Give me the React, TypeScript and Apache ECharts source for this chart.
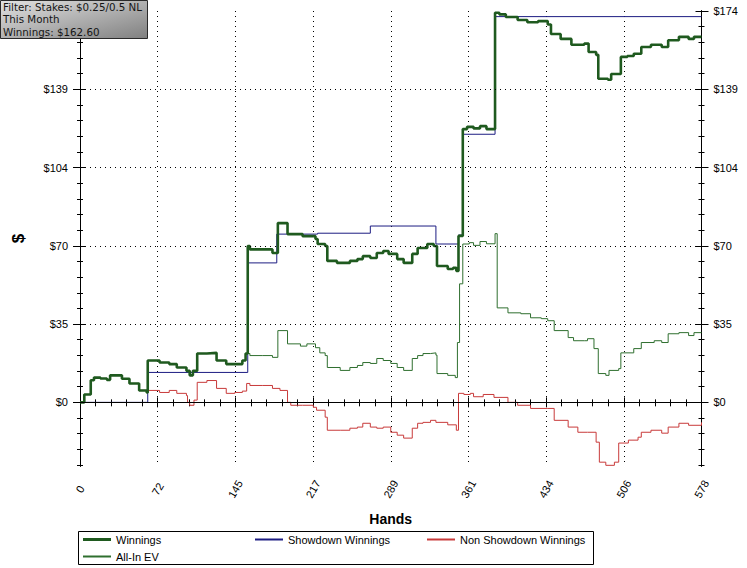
import React, { useEffect, useRef } from 'react';
import * as echarts from 'echarts';

const FONT = '"Liberation Sans", Arial, sans-serif';
const INFO_FONT = '"DejaVu Sans", Verdana, sans-serif';

const handsMax = 578;
const xTickStep = 72.25;
const yMin = -28.3;
const yMax = 174;
const yTickValues = [0, 34.8, 69.6, 104.4, 139.2, 174];
const yLeftLabelValues = [0, 34.8, 69.6, 104.4, 139.2];
const yGridValues = [34.8, 69.6, 104.4, 139.2];
const yMinorStep = 6.96;

const seriesNames = ['Winnings', 'Showdown Winnings', 'Non Showdown Winnings', 'All-In EV'];
const seriesColors = ['#1f5a1f', '#1c1c82', '#c83a3a', '#2f6f2f'];

const infoLines = ['Filter: Stakes: $0.25/0.5 NL', 'This Month', 'Winnings: $162.60'];

// [hand, $]
const winnings: [number, number][] = [
  [0, 0], [4, 3.5], [10, 9.8], [13, 11], [19, 10.6], [25, 10], [28, 12], [34, 12], [39, 10.5], [46, 8.4],
  [55, 5.3], [62, 4.4], [63, 18.6], [74, 17.7], [83, 17], [90, 15.5], [99, 14], [102, 12], [105, 14],
  [109, 21.7], [118, 22], [127, 18.6], [136, 17], [144, 17], [151, 18.6], [154, 21.7], [156, 69.5],
  [158, 68], [170, 68], [179, 66.4], [184, 79.7], [193, 74.8], [207, 73.9], [219, 72.6], [221, 70.4],
  [228, 69.5], [230, 62.9], [239, 62], [251, 62.9], [258, 63.7], [263, 65], [270, 64.2], [276, 66.4],
  [282, 67.3], [287, 66], [295, 63.7], [301, 62], [309, 66], [314, 68.6], [323, 70.4], [329, 69.5],
  [332, 60.6], [342, 59.3], [347, 59.8], [350, 58.4], [352, 74], [356, 121.5], [360, 122.5],
  [366, 121.8], [372, 122.8], [378, 121.5], [386, 173.2], [390, 172.5], [396, 171.3], [407, 170],
  [416, 169], [426, 169.5], [435, 168], [438, 163.8], [447, 161.6], [457, 159], [469, 159.5],
  [473, 155.8], [480, 154.5], [482, 143.9], [491, 143.4], [494, 146], [501, 146], [503, 153.6],
  [509, 154], [515, 155], [522, 158], [531, 159], [541, 158], [547, 161], [557, 162.5], [566, 161.6],
  [571, 162.5], [578, 162.6],
];

const showdown: [number, number][] = [
  [0, 0], [63, 13.3], [156, 62], [183, 74.8], [221, 75.2], [270, 78.4], [331, 70.4], [352, 74.4],
  [356, 119.2], [386, 171.5], [578, 171.5],
];

const nonShowdown: [number, number][] = [
  [0, 0], [4, 3.5], [10, 9.8], [13, 11], [19, 10.6], [25, 10], [28, 12], [34, 12], [39, 10.5], [46, 8.4],
  [55, 5.3], [62, 4.4], [63, 5.3], [74, 4.4], [83, 5.3], [90, 4], [99, 3], [100, 0], [102, -1.3],
  [106, 1], [109, 8.9], [118, 9.7], [127, 6.2], [136, 4], [144, 4.4], [151, 5], [155, 8.4], [158, 7.5],
  [170, 7.5], [179, 6.2], [186, 5.3], [193, 0], [196, -1.3], [207, -1.3], [217, -2.2], [220, -3.5],
  [228, -6.6], [230, -12.4], [242, -12.4], [251, -11.5], [258, -11], [263, -9.3], [270, -11],
  [276, -11.5], [282, -11], [289, -13.3], [295, -14.6], [301, -15.9], [309, -11.5], [314, -9.3],
  [319, -8.9], [326, -8], [331, -8.9], [342, -10], [350, -12.4], [352, 4], [357, 3.5], [363, 4],
  [366, 2.5], [375, 3.5], [385, 2.2], [398, 0], [407, -1.3], [419, -2.7], [435, -2.7], [441, -8],
  [454, -11], [463, -13.3], [472, -13.3], [480, -17.7], [483, -26.6], [489, -28], [497, -26.6],
  [501, -18.1], [510, -16.8], [519, -15.5], [522, -13.3], [531, -12.4], [541, -13.7], [547, -11],
  [557, -9.3], [566, -10.2], [578, -8.9],
];

const allInEV: [number, number][] = [
  [0, 0], [4, 3.5], [10, 9.8], [13, 11], [19, 10.6], [25, 10], [28, 12], [34, 12], [39, 10.5], [46, 8.4],
  [55, 5.3], [62, 4.4], [63, 18.6], [74, 17.7], [83, 17], [90, 15.5], [99, 14], [102, 12], [105, 14],
  [109, 21.7], [118, 22], [127, 18.6], [136, 17], [144, 17], [151, 18.6], [154, 21.7], [158, 20.8],
  [170, 20.8], [179, 20], [184, 31.9], [193, 26], [205, 25], [211, 26], [219, 24.3], [223, 22],
  [228, 20.8], [230, 15.5], [242, 14.2], [251, 15.5], [258, 16.4], [263, 17.7], [270, 17.3],
  [276, 19.5], [282, 18.6], [289, 17.3], [295, 15.5], [301, 14.2], [309, 19.5], [314, 20.8],
  [319, 21.7], [326, 22], [331, 21], [332, 12.8], [342, 12], [349, 11], [351, 26.6], [353, 52.7],
  [356, 70.4], [362, 71], [366, 69.8], [372, 71.5], [378, 70.5], [386, 75], [388, 42], [398, 39.8],
  [410, 39.4], [419, 37.6], [429, 37.2], [435, 36.3], [441, 31.9], [454, 28.8], [459, 27.4],
  [469, 27.4], [472, 28.3], [478, 23.9], [482, 12.8], [489, 12], [492, 14.2], [501, 15], [503, 22],
  [515, 23.9], [522, 26.6], [534, 27.4], [541, 26.6], [547, 30.5], [557, 31], [566, 29.7], [571, 31],
  [578, 31],
];

export default function App() {
  const ref = useRef<HTMLDivElement>(null);

  useEffect(() => {
    if (!ref.current) return;
    const chart = echarts.init(ref.current, null, { renderer: 'svg' });

    const minorTicks: number[] = [];
    for (let k = -4; k <= 25; k++) minorTicks.push(+(k * yMinorStep).toFixed(2));

    const black = { color: '#000', width: 1 };
    const baseY = {
      type: 'value',
      min: yMin,
      max: yMax,
      offset: 0,
      axisLine: { show: true, lineStyle: black },
      axisLabel: { show: false },
      splitLine: { show: false },
      minorTick: { show: false },
    };
    const mkY = (position: string, ticks: number[], length: number, inside: boolean, labels?: number[]) => ({
      ...baseY,
      position,
      axisTick: { show: true, customValues: ticks, length, inside, lineStyle: black },
      axisLabel: labels
        ? {
            show: true,
            customValues: labels,
            formatter: (v: number) => '$' + Math.round(v),
            color: '#000',
            fontSize: 11,
            fontFamily: FONT,
            margin: 12,
          }
        : { show: false },
    });

    const baseX = {
      type: 'value',
      min: 0,
      max: handsMax,
      interval: xTickStep,
      axisLine: { show: true, lineStyle: black },
      splitLine: { show: false },
      axisLabel: { show: false },
    };

    const yLeftMain: any = mkY('left', yTickValues, 7, false, yLeftLabelValues);
    yLeftMain.name = '$';
    yLeftMain.nameLocation = 'middle';
    yLeftMain.nameGap = 53;
    yLeftMain.nameRotate = 90;
    yLeftMain.nameTextStyle = { fontSize: 17, fontWeight: 'bold', color: '#000', fontFamily: FONT };

    const legendCommon = {
      orient: 'horizontal',
      padding: 0,
      itemWidth: 28,
      itemHeight: 2,
      icon: 'rect',
      selectedMode: false,
      textStyle: { fontSize: 11, color: '#000', fontFamily: FONT },
    };

    const lineSeries = (name: string, data: [number, number][], color: string, width: number) => ({
      name,
      type: 'line',
      step: 'end',
      data,
      symbol: 'none',
      showSymbol: false,
      lineStyle: { color, width },
      itemStyle: { color },
      z: 3,
    });

    const option: any = {
      animation: false,
      backgroundColor: '#fff',
      grid: { left: 80, right: 45.5, top: 11, bottom: 102, containLabel: false, outerBoundsMode: 'none' },
      xAxis: [
        {
          ...baseX,
          position: 'bottom',
          name: 'Hands',
          nameLocation: 'middle',
          nameGap: 46,
          nameTextStyle: { fontSize: 14, fontWeight: 'bold', color: '#000', fontFamily: FONT },
          axisTick: { show: true, length: 5, inside: false, lineStyle: black },
          minorTick: { show: true, splitNumber: 5, length: 3, lineStyle: black },
          splitLine: { show: true, lineStyle: { color: '#000', width: 1, type: [1, 4] } },
          axisLabel: {
            show: true,
            rotate: 60,
            align: 'center',
            verticalAlign: 'middle',
            margin: 23,
            formatter: (v: number) => String(Math.round(v)),
            color: '#000',
            fontSize: 11,
            fontFamily: FONT,
          },
        },
        {
          ...baseX,
          position: 'bottom',
          axisTick: { show: true, length: 5, inside: true, lineStyle: black },
          minorTick: { show: true, splitNumber: 5, length: 3, lineStyle: black },
        },
        {
          ...baseX,
          position: 'top',
          axisTick: { show: true, length: 4, inside: true, lineStyle: black },
          minorTick: { show: true, splitNumber: 5, length: 4, lineStyle: black },
        },
      ],
      yAxis: [
        yLeftMain,
        mkY('left', yTickValues, 6, true),
        mkY('left', minorTicks, 3, false),
        mkY('left', minorTicks, 3, true),
        mkY('right', yTickValues, 7, false, yTickValues),
        mkY('right', yTickValues, 6, true),
        mkY('right', minorTicks, 3, false),
        mkY('right', minorTicks, 3, true),
      ],
      legend: [
        { ...legendCommon, data: [seriesNames[0]], left: 83, top: 534, itemHeight: 3 },
        { ...legendCommon, data: [seriesNames[1]], left: 255, top: 534 },
        { ...legendCommon, data: [seriesNames[2]], left: 427, top: 534 },
        { ...legendCommon, data: [seriesNames[3]], left: 83, top: 551 },
      ],
      series: [
        {
          name: 'gridlines',
          type: 'line',
          data: [[0, 0]],
          symbol: 'none',
          lineStyle: { opacity: 0 },
          silent: true,
          z: 1,
          markLine: {
            silent: true,
            symbol: 'none',
            label: { show: false },
            data: [
              ...yGridValues.map((v) => ({ yAxis: v, lineStyle: { type: [1, 4], color: '#000', width: 1 } })),
              { yAxis: 0, lineStyle: { type: 'solid', color: '#000', width: 1 } },
            ],
          },
        },
        lineSeries(seriesNames[3], allInEV, seriesColors[3], 1),
        lineSeries(seriesNames[2], nonShowdown, seriesColors[2], 1),
        lineSeries(seriesNames[1], showdown, seriesColors[1], 1),
        lineSeries(seriesNames[0], winnings, seriesColors[0], 2.6),
      ],
      graphic: [
        {
          type: 'rect',
          z: 100,
          shape: { x: 78.5, y: 531.5, width: 515, height: 33 },
          style: { fill: 'none', stroke: '#000', lineWidth: 1 },
        },
        {
          type: 'rect',
          z: 100,
          shape: { x: 0.5, y: 0.5, width: 147, height: 38 },
          style: {
            fill: new echarts.graphic.LinearGradient(0, 0, 1, 1, [
              { offset: 0, color: '#e2e2e2' },
              { offset: 1, color: '#808080' },
            ]),
            stroke: '#2a2a2a',
            lineWidth: 1,
          },
        },
        ...infoLines.map((t, i) => ({
          type: 'text',
          z: 101,
          x: 3,
          y: 6.8 + i * 12.5,
          style: {
            text: t,
            fontSize: 10.3,
            fontFamily: INFO_FONT,
            fill: '#151515',
            verticalAlign: 'middle',
          },
        })),
      ],
    };

    chart.setOption(option);
    return () => chart.dispose();
  }, []);

  return <div ref={ref} style={{ position: 'absolute', left: 0, top: 0, width: 747, height: 568 }} />;
}
